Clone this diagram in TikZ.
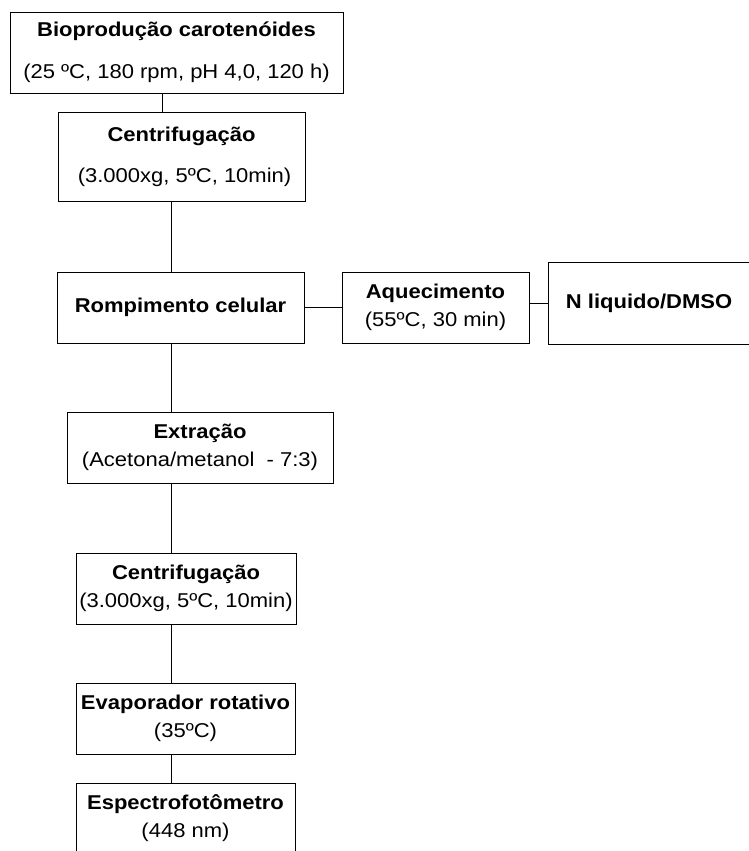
\documentclass[tikz,border=0pt]{standalone}
\usepackage{fontspec}
\setmainfont[FakeStretch=1.1]{Liberation Sans}
\usepackage{tikz}
\usetikzlibrary{positioning}

\begin{document}
\begin{tikzpicture}[x=1pt, y=-1pt, line width=0.9pt,
    stage/.style={draw, rectangle, align=center, inner sep=0pt, font=\fontsize{20}{28}\selectfont}]
    \useasboundingbox (0,0) rectangle (749,851);

    % Main column
    \node[stage, minimum width=333, minimum height=81] (bio) at (176.5,52.5)
        {\textbf{Bioprodução carotenóides}\\[14pt](25 ºC, 180 rpm, pH 4,0, 120 h)};
    \node[stage, minimum width=247, minimum height=89] (cent1) at (181.5,156.5)
        {\textbf{Centrifugação}\\[13pt]\ (3.000xg, 5ºC, 10min)};
    \node[stage, minimum width=247, minimum height=71] (romp) at (180.5,307.5)
        {\textbf{Rompimento celular}};

    % Side branch
    \node[stage, minimum width=187, minimum height=71] (aquec) at (435.5,307.5)
        {\textbf{Aquecimento}\\(55ºC, 30 min)};
    \node[stage, minimum width=202, minimum height=82] (nliq) at (649,303)
        {\textbf{N liquido/DMSO}};

    % Lower column
    \node[stage, minimum width=266, minimum height=71] (extr) at (200,447.5)
        {\textbf{Extração}\\(Acetona/metanol \ - 7:3)};
    \node[stage, minimum width=220, minimum height=71] (cent2) at (186,588.5)
        {\textbf{Centrifugação}\\(3.000xg, 5ºC, 10min)};
    \node[stage, minimum width=219, minimum height=71] (evap) at (185.5,718.5)
        {\textbf{Evaporador rotativo}\\(35ºC)};
    \node[stage, minimum width=219, minimum height=71] (espec) at (185.5,818.5)
        {\textbf{Espectrofotômetro}\\(448 nm)};

    % Connectors
    \coordinate (topline) at (162,0);
    \coordinate (spine) at (171,0);
    \draw (bio.south -| topline) -- (cent1.north -| topline);
    \draw (cent1.south -| spine) -- (romp.north -| spine);
    \draw (romp.east) -- (aquec.west);
    \draw (aquec.east |- nliq.west) -- (nliq.west);
    \draw (romp.south -| spine) -- (extr.north -| spine);
    \draw (extr.south -| spine) -- (cent2.north -| spine);
    \draw (cent2.south -| spine) -- (evap.north -| spine);
    \draw (evap.south -| spine) -- (espec.north -| spine);
\end{tikzpicture}
\end{document}
